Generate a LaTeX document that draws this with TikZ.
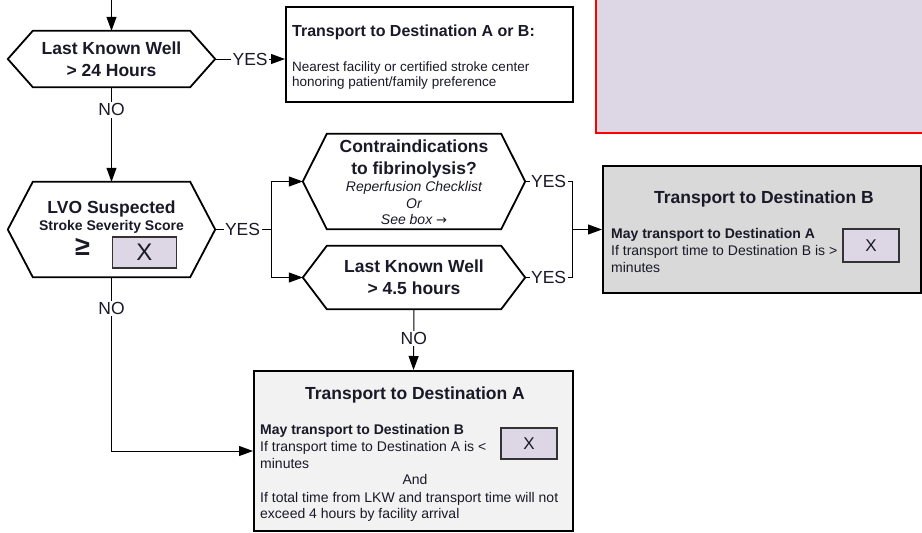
\documentclass[tikz,border=0pt]{standalone}
\usepackage{fontspec}
\setmainfont{Liberation Sans}
\newfontfamily\djv{DejaVu Sans}
\usetikzlibrary{arrows.meta,calc}
\definecolor{lav}{RGB}{221,214,229}
\definecolor{boxB}{RGB}{217,217,217}
\definecolor{boxA}{RGB}{242,242,242}
\definecolor{txt}{RGB}{25,25,40}
\newcommand{\fsz}[2]{\fontsize{#1}{#2}\selectfont}
\newcommand{\hexoutline}[2]{\draw[hexline] (#1.west) -- ([xshift=#2]#1.north west) -- ([xshift=-#2]#1.north east) -- (#1.east) -- ([xshift=-#2]#1.south east) -- ([xshift=#2]#1.south west) -- cycle;}
\tikzset{
  hexline/.style={draw=black, line width=1.8pt, line join=miter},
  hexnode/.style={inner sep=0pt, text=txt, font=\bfseries\fsz{17.5}{22}, align=center},
  hexshape/.style={inner sep=0pt},
  box/.style={draw=black, line width=2pt, inner sep=0pt},
  xbox/.style={draw=black!80, line width=1.2pt, fill=lav, inner sep=0pt, text=txt},
  conn/.style={draw=black, line width=1pt},
  arr/.style={conn, -{Triangle[length=14pt,width=10pt]}},
  lbl/.style={fill=white, inner sep=1.5pt, text=txt, font=\fsz{17.5}{20}},
  ttl/.style={text=txt, inner sep=0pt, font=\bfseries\fsz{17.5}{20}, anchor=base},
  sub/.style={text=txt, inner sep=0pt, font=\bfseries\fsz{14}{16}, anchor=base},
  itl/.style={text=txt, inner sep=0pt, font=\itshape\fsz{14}{16}, anchor=base},
  bodyb/.style={text=txt, inner sep=0pt, font=\bfseries\fsz{14}{17}, anchor=base west},
  body/.style={text=txt, inner sep=0pt, font=\fsz{14}{17}, anchor=base west},
}
\begin{document}
\begin{tikzpicture}[x=1pt,y=-1pt]
\useasboundingbox (0,0) rectangle (922,533);

% red box (top right, cut off)
\draw[draw=red, line width=2.5pt, fill=lav] (596,-10) rectangle (935,133);

% hexagon 1
\node[hexnode, minimum width=207pt, minimum height=56pt] (h1) at (111.5,59) {Last Known Well\\> 24 Hours};
\hexoutline{h1}{25pt}
\coordinate (top) at (111.5,0);
\draw[arr] (top) -- (h1.north);

% box A or B
\node[box, minimum width=287pt, minimum height=95pt] (ab) at (429.5,54.5) {};
\node[text=txt, inner sep=0pt, font=\bfseries\fsz{16}{18}, anchor=base west] (abt) at (292,36.5) {Transport to Destination A or B:};
\node[body, font=\fsz{13.5}{15}] (ab1) at (292,71.5) {Nearest facility or certified stroke center};
\node[body, font=\fsz{13.5}{15}] (ab2) at (292,86.5) {honoring patient/family preference};
\draw[arr] (h1.east) -- node[lbl]{YES} (h1.east -| ab.west);

% hexagon 2
\node[hexshape, minimum width=207pt, minimum height=95pt] (h2) at (111.5,229.5) {};
\hexoutline{h2}{25pt}
\node[ttl] (h2a) at (111.5,213) {LVO Suspected};
\node[sub] (h2b) at (111.5,230) {Stroke Severity Score};
\node[text=txt, font=\bfseries\fsz{27}{29}, inner sep=0pt] (geq) at (82.5,246.5) {≥};
\node[xbox, minimum width=64pt, minimum height=31pt, font=\fsz{24}{26}] (lvox) at (144.5,252.5) {X};
\draw[arr] (h1.south) -- node[lbl, pos=0.24]{NO} (h2.north);

% hexagon 3
\node[hexshape, minimum width=222pt, minimum height=95pt] (h3) at (414,181.5) {};
\hexoutline{h3}{24pt}
\node[ttl] (h3a) at (414,152) {Contraindications};
\node[ttl] (h3b) at (414,174) {to fibrinolysis?};
\node[itl] (h3c) at (414,191) {Reperfusion Checklist};
\node[itl] (h3d) at (414,208) {Or};
\node[itl] (h3e) at (414,224) {See box {\djv\upshape\fsz{13}{15}→}};

% hexagon 4
\node[hexnode, minimum width=222pt, minimum height=63pt] (h4) at (414,277.5) {Last Known Well\\> 4.5 hours};
\hexoutline{h4}{24pt}

% branch from hexagon 2
\coordinate (br) at (271,229.5);
\draw[conn] (h2.east) -- node[lbl, pos=0.49]{YES} (br);
\draw[arr] (br) |- (h3.west);
\draw[arr] (br) |- (h4.west);

% Destination B
\node[box, fill=boxB, minimum width=318pt, minimum height=127pt] (dB) at (762,229.5) {};
\node[ttl] (dBt) at (764,203) {Transport to Destination B};
\node[bodyb] (dB1) at (611,238) {May transport to Destination A};
\node[body] (dB2) at (611,255) {If transport time to Destination B is >};
\node[body] (dB3) at (611,272) {minutes};
\node[xbox, minimum width=56pt, minimum height=33pt, font=\fsz{17}{19}] (dBx) at (871,245.5) {X};
\coordinate (mj) at (572,229.5);
\draw[conn] (h3.east) -| node[lbl, pos=0.25]{YES} (mj);
\draw[conn] (h4.east) -| node[lbl, pos=0.25]{YES} (mj);
\draw[arr] (mj) -- (dB.west);

% Destination A
\node[box, fill=boxA, minimum width=319pt, minimum height=160pt] (dA) at (413.5,451) {};
\node[ttl] (dAt) at (415,399) {Transport to Destination A};
\node[bodyb] (dA1) at (260,434) {May transport to Destination B};
\node[body] (dA2) at (260,451) {If transport time to Destination A is <};
\node[body] (dA3) at (260,468) {minutes};
\node[text=txt, inner sep=0pt, font=\fsz{14}{17}, anchor=base] (dA4) at (415,484) {And};
\node[body] (dA5) at (260,502) {If total time from LKW and transport time will not};
\node[body] (dA6) at (260,518) {exceed 4 hours by facility arrival};
\node[xbox, minimum width=56pt, minimum height=31pt, font=\fsz{17}{19}] (dAx) at (529,443.5) {X};
\draw[arr] (h4.south) -- node[lbl, pos=0.48]{NO} (dA.north);
\draw[arr] (h2.south) |- node[lbl, pos=0.09]{NO} (dA.west);
\end{tikzpicture}
\end{document}
